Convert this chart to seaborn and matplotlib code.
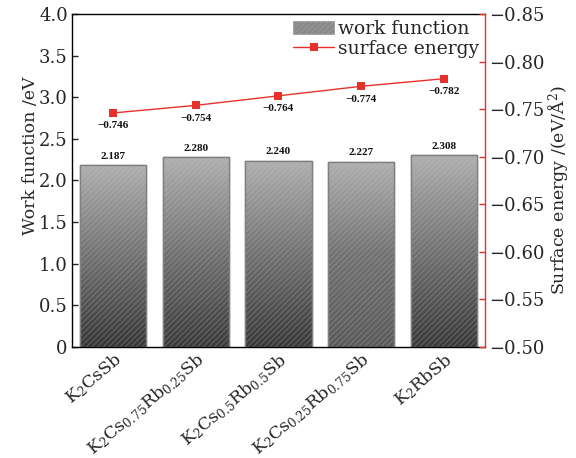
import numpy as np
import pandas as pd
import matplotlib
matplotlib.use("Agg")
import matplotlib.pyplot as plt
from matplotlib.patches import Rectangle
from matplotlib.lines import Line2D
from matplotlib.colors import LinearSegmentedColormap
import seaborn as sns

# ---- data ----
materials = [r"K$_2$CsSb",
             r"K$_2$Cs$_{0.75}$Rb$_{0.25}$Sb",
             r"K$_2$Cs$_{0.5}$Rb$_{0.5}$Sb",
             r"K$_2$Cs$_{0.25}$Rb$_{0.75}$Sb",
             r"K$_2$RbSb"]
work_function = [2.187, 2.280, 2.240, 2.227, 2.308]
surface_energy = [-0.746, -0.754, -0.764, -0.774, -0.782]
left_ticks = [0, 0.5, 1.0, 1.5, 2.0, 2.5, 3.0, 3.5, 4.0]
right_ticks = [-0.50, -0.55, -0.60, -0.65, -0.70, -0.75, -0.80, -0.85]

# bottom shade of each bar's gradient
bar_bottom_shades = ["#363636", "#3a3a3a", "#383838", "#5a5a5a", "#393939"]
bar_top_shade = "#b0b0b0"
red = "#e8302a"

sns.set_theme(style="ticks")
plt.rcParams["font.family"] = ["DejaVu Serif"]
plt.rcParams["mathtext.fontset"] = "dejavuserif"
plt.rcParams["hatch.linewidth"] = 0.6

df = pd.DataFrame({"material": materials, "wf": work_function, "se": surface_energy})

fig = plt.figure(figsize=(5.76, 4.58), dpi=100)
ax = fig.add_axes([0.125, 0.2424, 0.717, 0.727])

sns.barplot(data=df, x="material", y="wf", ax=ax, width=0.8,
            color="#888888", edgecolor="#808080", linewidth=1.0, zorder=2)

# gradient fill + light hatching for every bar
grad = np.linspace(0, 1, 256).reshape(-1, 1)
for patch, bottom in zip(list(ax.patches), bar_bottom_shades):
    x0, w, h = patch.get_x(), patch.get_width(), patch.get_height()
    cmap = LinearSegmentedColormap.from_list("g", [bottom, "#727272", bar_top_shade])
    im = ax.imshow(grad, extent=[x0, x0 + w, 0, h], origin="lower", cmap=cmap,
                   aspect="auto", zorder=2.1, interpolation="bicubic")
    im.set_clip_path(patch)
    hatch = Rectangle((x0, 0), w, h, facecolor="none", edgecolor="#c8c8c8",
                      linewidth=0, hatch="//////", alpha=0.35, zorder=2.2)
    ax.add_patch(hatch)
    outline = Rectangle((x0, 0), w, h, facecolor="none", edgecolor="#808080",
                        linewidth=1.0, zorder=2.3)
    ax.add_patch(outline)
    ax.annotate(f"{h:.3f}", (x0 + w / 2, h), xytext=(0, 3), textcoords="offset points",
                ha="center", va="bottom", fontsize=8, fontweight="bold",
                family="Liberation Serif", color="#111111")
ax.set_xlim(-0.5, len(materials) - 0.5)
ax.set_ylim(0, 4.0)

ax.set_yticks(left_ticks)
ax.set_yticklabels(["0" if t == 0 else f"{t:.1f}" for t in left_ticks])
ax.tick_params(axis="y", direction="in", length=4, width=1, labelsize=13, pad=3)
ax.tick_params(axis="x", direction="in", length=0, labelsize=12.5, pad=2)
ax.set_xlabel("")
ax.set_ylabel("Work function /eV", fontsize=12.5)
ax.yaxis.set_label_coords(-0.08, 0.575)
for lbl in ax.get_xticklabels():
    lbl.set_rotation(40)
    lbl.set_ha("right")
    lbl.set_va("top")
    lbl.set_rotation_mode("anchor")
for side in ["left", "bottom", "top"]:
    ax.spines[side].set_color("black")
    ax.spines[side].set_linewidth(1.0)
ax.spines["right"].set_visible(False)

# surface energy on an inverted right axis
ax2 = ax.twinx()
sns.lineplot(data=df, x="material", y="se", ax=ax2, sort=False, color=red,
             linewidth=1.0, marker="s", markersize=6, markeredgewidth=0,
             legend=False, zorder=3)
ax2.set_ylim(-0.50, -0.85)
ax2.set_yticks(right_ticks)
ax2.set_yticklabels([f"\u2212{abs(t):.2f}" for t in right_ticks])
ax2.tick_params(axis="y", direction="in", length=4, width=1, color=red,
                labelsize=13, pad=3)
ax2.set_ylabel(r"Surface energy /(eV/$\mathrm{\AA}^2$)", fontsize=12.5)
ax2.yaxis.set_label_coords(1.148, 0.47)
ax2.set_xlabel("")
for side in ["left", "top", "bottom"]:
    ax2.spines[side].set_visible(False)
ax2.spines["right"].set_color(red)
ax2.spines["right"].set_linewidth(1.0)
for i, v in enumerate(surface_energy):
    ax2.annotate(f"\u2212{abs(v):.3f}", (i, v), xytext=(0, -6), textcoords="offset points",
                 ha="center", va="top", fontsize=8, fontweight="bold",
                 family="Liberation Serif", color="#111111")

# legend
h_bar = Rectangle((0, 0), 1, 1, facecolor="#8a8a8a", edgecolor="#9a9a9a",
                  hatch="//////", linewidth=0.5)
h_line = Line2D([], [], color=red, linewidth=1.0, marker="s", markersize=6,
                markeredgewidth=0)
ax2.legend([h_bar, h_line], ["work function", "surface energy"], loc="upper right",
           frameon=False, fontsize=13.5, handlelength=2.2, handletextpad=0.2,
           borderaxespad=0.2, labelspacing=0.1, borderpad=0.1)

fig.savefig("out.png", dpi=100)
